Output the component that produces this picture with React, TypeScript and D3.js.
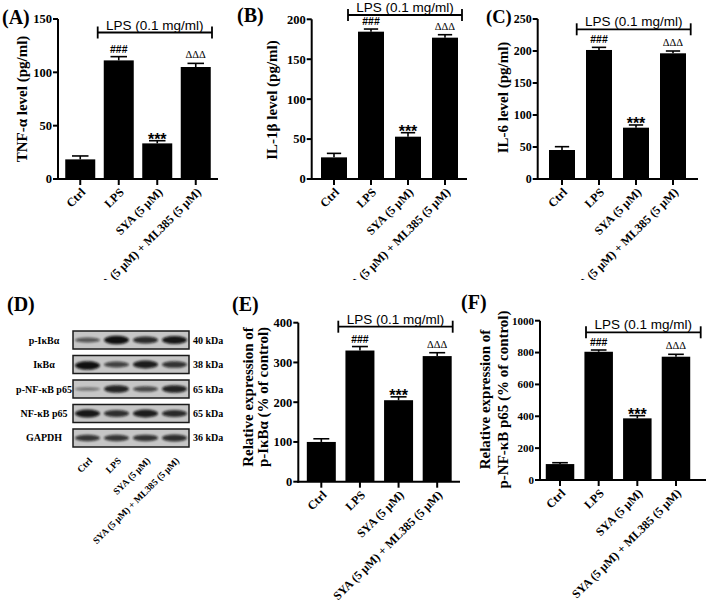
import React from 'react';
import * as d3 from 'd3';

// ---------- data ----------
const groups = ['Ctrl', 'LPS', 'SYA (5 μM)', 'SYA (5 μM) + ML385 (5 μM)'];
const sigMarks = ['', '###', '***', 'ΔΔΔ'];
const bracketText = 'LPS (0.1 mg/ml)';

const tnfMean = [18.4, 111.2, 33.4, 105];
const tnfErr = [3.2, 3.5, 2.5, 3.4];
const tnfTicks = [0, 50, 100, 150];

const il1bMean = [27.1, 184.5, 53, 177];
const il1bErr = [5, 3.3, 5, 3.7];
const il1bTicks = [0, 50, 100, 150, 200];

const il6Mean = [45.3, 201.6, 80.2, 196.4];
const il6Err = [5.2, 4.1, 4.2, 3.6];
const il6Ticks = [0, 50, 100, 150, 200, 250];

const pIkbaMean = [100, 330, 205, 316];
const pIkbaErr = [8, 10, 8.5, 8.5];
const pIkbaTicks = [0, 100, 200, 300, 400];

const pP65Mean = [100, 805, 387, 774];
const pP65Err = [8.5, 11, 17, 15];
const pP65Ticks = [0, 200, 400, 600, 800, 1000];

const blotRows = ['p-IκBα', 'IκBα', 'p-NF-κB p65', 'NF-κB p65', 'GAPDH'];
const blotKda = ['40 kDa', '38 kDa', '65 kDa', '65 kDa', '36 kDa'];
const bandIntensity = [
  [0.45, 1.0, 0.8, 0.95],
  [1.0, 0.6, 0.9, 0.72],
  [0.2, 0.85, 0.55, 0.85],
  [0.95, 0.75, 0.9, 0.8],
  [0.7, 0.7, 0.72, 0.75],
];

// ---------- styles ----------
const SERIF = "'Liberation Serif', 'Times New Roman', serif";
const SANS = "'Liberation Sans', Arial, sans-serif";

type Cfg = {
  axisX: number; xEnd: number; y0: number; yTop: number;
  bandL: number; bandR: number; barW: number;
  bracketY: number; bracketL: number; bracketR: number;
  tag: string; tagX: number; tagY: number; tagSize: number;
  ylabel: string[]; ylabelX: number[]; ylabelY: number;
  tickFont: number;
};

function BarPanel({ cfg, means, errs, ticks }: { cfg: Cfg; means: number[]; errs: number[]; ticks: number[] }) {
  const y = d3.scaleLinear().domain([0, ticks[ticks.length - 1]]).range([cfg.y0, cfg.yTop]);
  const x = d3.scaleBand<string>().domain(groups).range([cfg.bandL, cfg.bandR]).paddingInner(0).paddingOuter(0);
  const cx = (g: string) => (x(g) as number) + x.bandwidth() / 2;
  const capW = cfg.barW * 0.55;
  const bm = (cfg.bracketL + cfg.bracketR) / 2;
  return (
    <g>
      <text x={cfg.tagX} y={cfg.tagY} fontFamily={SERIF} fontWeight="bold" fontSize={cfg.tagSize}>{cfg.tag}</text>
      {cfg.ylabel.map((l, i) => (
        <text key={i} transform={`translate(${cfg.ylabelX[i]},${cfg.ylabelY}) rotate(-90)`} dy="0.35em"
          textAnchor="middle" fontFamily={SERIF} fontWeight="bold" fontSize={15}>{l}</text>
      ))}
      {/* bars */}
      {groups.map((g, i) => (
        <g key={g}>
          <rect x={cx(g) - cfg.barW / 2} y={y(means[i])} width={cfg.barW} height={cfg.y0 - y(means[i])} fill="#000" />
          <line x1={cx(g)} x2={cx(g)} y1={y(means[i])} y2={y(means[i] + errs[i])} stroke="#000" strokeWidth={1.6} />
          <line x1={cx(g) - capW / 2} x2={cx(g) + capW / 2} y1={y(means[i] + errs[i])} y2={y(means[i] + errs[i])} stroke="#000" strokeWidth={1.6} />
          {sigMarks[i] === '###' && (
            <text x={cx(g)} y={y(means[i] + errs[i]) - 4} textAnchor="middle" fontFamily={SANS} fontWeight="bold" fontSize={10.5}>{sigMarks[i]}</text>
          )}
          {sigMarks[i] === '***' && (
            <text x={cx(g)} y={y(means[i] + errs[i]) + 4} textAnchor="middle" fontFamily={SANS} fontWeight="bold" fontSize={16}>{sigMarks[i]}</text>
          )}
          {sigMarks[i] === 'ΔΔΔ' && (
            <text x={cx(g)} y={y(means[i] + errs[i]) - 5} textAnchor="middle" fontFamily={SERIF} fontSize={10.5}>{sigMarks[i]}</text>
          )}
        </g>
      ))}
      {/* axes */}
      <line x1={cfg.axisX} x2={cfg.axisX} y1={cfg.y0 + 1} y2={y(ticks[ticks.length - 1])} stroke="#000" strokeWidth={2} />
      <line x1={cfg.axisX - 1} x2={cfg.xEnd} y1={cfg.y0} y2={cfg.y0} stroke="#000" strokeWidth={2} />
      {ticks.map((t) => (
        <g key={t}>
          <line x1={cfg.axisX - 5} x2={cfg.axisX} y1={y(t)} y2={y(t)} stroke="#000" strokeWidth={2} />
          <text x={cfg.axisX - 6} y={y(t)} dy="0.35em" textAnchor="end" fontFamily={SERIF} fontWeight="bold" fontSize={cfg.tickFont}>{t}</text>
        </g>
      ))}
      {groups.map((g) => (
        <g key={g}>
          <line x1={cx(g)} x2={cx(g)} y1={cfg.y0} y2={cfg.y0 + 6} stroke="#000" strokeWidth={2} />
          <text transform={`translate(${cx(g) + 3},${cfg.y0 + 11}) rotate(-45)`} dy="0.35em" textAnchor="end"
            fontFamily={SERIF} fontWeight="bold" fontSize={12}>{g}</text>
        </g>
      ))}
      {/* bracket */}
      <line x1={cfg.bracketL} x2={cfg.bracketR} y1={cfg.bracketY} y2={cfg.bracketY} stroke="#000" strokeWidth={1.8} />
      <line x1={cfg.bracketL} x2={cfg.bracketL} y1={cfg.bracketY - 6} y2={cfg.bracketY + 6} stroke="#000" strokeWidth={1.8} />
      <line x1={cfg.bracketR} x2={cfg.bracketR} y1={cfg.bracketY - 6} y2={cfg.bracketY + 6} stroke="#000" strokeWidth={1.8} />
      <text x={bm} y={cfg.bracketY - 3} textAnchor="middle" fontFamily={SANS} fontSize={13.5}>{bracketText}</text>
    </g>
  );
}

function Blot() {
  const lane = d3.scaleBand<string>().domain(groups).range([73, 189]);
  const row = d3.scaleBand<string>().domain(blotRows).range([331, 447]).paddingInner(0.265).paddingOuter(0);
  const lc = (g: string) => (lane(g) as number) + lane.bandwidth() / 2;
  return (
    <g>
      <text x={7} y={311} fontFamily={SERIF} fontWeight="bold" fontSize={20}>(D)</text>
      {blotRows.map((r, ri) => {
        const top = row(r) as number;
        const h = row.bandwidth();
        const cy = top + h / 2;
        return (
          <g key={r}>
            <rect x={73} y={top} width={116} height={h} fill="#c6c6c6" stroke="#1a1a1a" strokeWidth={1.5} />
            {groups.map((g, gi) => {
              const I = bandIntensity[ri][gi];
              return (
                <ellipse key={g} cx={lc(g)} cy={cy + (ri === 1 && gi === 0 ? 1 : 0)} rx={12.5} ry={1.2 + 3.0 * I}
                  fill="#0a0a0a" opacity={0.32 + 0.66 * I} filter="url(#bandBlur)" />
              );
            })}
            <text x={44} y={cy} dy="0.35em" textAnchor="middle" fontFamily={SERIF} fontWeight="bold" fontSize={10}>{r}</text>
            <text x={193} y={cy} dy="0.35em" textAnchor="start" fontFamily={SERIF} fontWeight="bold" fontSize={10}>{blotKda[ri]}</text>
          </g>
        );
      })}
      {groups.map((g) => (
        <text key={g} transform={`translate(${lc(g) + 3},${459}) rotate(-45)`} dy="0.35em" textAnchor="end"
          fontFamily={SERIF} fontWeight="bold" fontSize={9.5}>{g}</text>
      ))}
    </g>
  );
}

const cfgA: Cfg = {
  axisX: 58, xEnd: 218, y0: 179, yTop: 19, bandL: 61, bandR: 215, barW: 30,
  bracketY: 32.5, bracketL: 97.7, bracketR: 212, tag: '(A)', tagX: 2, tagY: 24, tagSize: 20,
  ylabel: ['TNF-α level (pg/ml)'], ylabelX: [22], ylabelY: 99, tickFont: 12.5,
};
const cfgB: Cfg = {
  axisX: 311.7, xEnd: 467, y0: 179, yTop: 19.3, bandL: 315.5, bandR: 463.5, barW: 26,
  bracketY: 15, bracketL: 348, bracketR: 462, tag: '(B)', tagX: 237, tagY: 22, tagSize: 20,
  ylabel: ['IL-1β level (pg/ml)'], ylabelX: [271.7], ylabelY: 100, tickFont: 12.5,
};
const cfgC: Cfg = {
  axisX: 537.7, xEnd: 698, y0: 179, yTop: 19, bandL: 543.5, bandR: 691.5, barW: 26,
  bracketY: 29.3, bracketL: 576.7, bracketR: 690.7, tag: '(C)', tagX: 486, tagY: 23, tagSize: 18.5,
  ylabel: ['IL-6 level (pg/ml)'], ylabelX: [503], ylabelY: 97.5, tickFont: 12,
};
const cfgE: Cfg = {
  axisX: 298.3, xEnd: 460, y0: 481.7, yTop: 322.7, bandL: 302, bandR: 456.5, barW: 29,
  bracketY: 326.7, bracketL: 338.3, bracketR: 452.7, tag: '(E)', tagX: 232, tagY: 311, tagSize: 20,
  ylabel: ['Relative expression of', 'p-IκBα (% of control)'], ylabelX: [248, 263], ylabelY: 397, tickFont: 12.5,
};
const cfgF: Cfg = {
  axisX: 540, xEnd: 706, y0: 480, yTop: 320.7, bandL: 540.7, bandR: 695.3, barW: 28.5,
  bracketY: 332.3, bracketL: 586, bracketR: 700.7, tag: '(F)', tagX: 461, tagY: 309, tagSize: 20,
  ylabel: ['Relative expression of', 'p-NF-κB p65 (% of control)'], ylabelX: [485, 502.7], ylabelY: 399.5, tickFont: 11,
};

export default function App() {
  return (
    <svg width={708} height={602} viewBox="0 0 708 602"
      style={{ position: 'absolute', left: 0, top: 0, background: '#fff' }}>
      <defs>
        <clipPath id="topRow"><rect x={0} y={0} width={708} height={280} /></clipPath>
        <filter id="bandBlur" x="-30%" y="-100%" width="160%" height="300%">
          <feGaussianBlur stdDeviation="1.1" />
        </filter>
      </defs>
      <rect x={0} y={0} width={708} height={602} fill="#fff" />
      <g clipPath="url(#topRow)">
        <BarPanel cfg={cfgA} means={tnfMean} errs={tnfErr} ticks={tnfTicks} />
        <BarPanel cfg={cfgB} means={il1bMean} errs={il1bErr} ticks={il1bTicks} />
        <BarPanel cfg={cfgC} means={il6Mean} errs={il6Err} ticks={il6Ticks} />
      </g>
      <Blot />
      <BarPanel cfg={cfgE} means={pIkbaMean} errs={pIkbaErr} ticks={pIkbaTicks} />
      <BarPanel cfg={cfgF} means={pP65Mean} errs={pP65Err} ticks={pP65Ticks} />
    </svg>
  );
}
